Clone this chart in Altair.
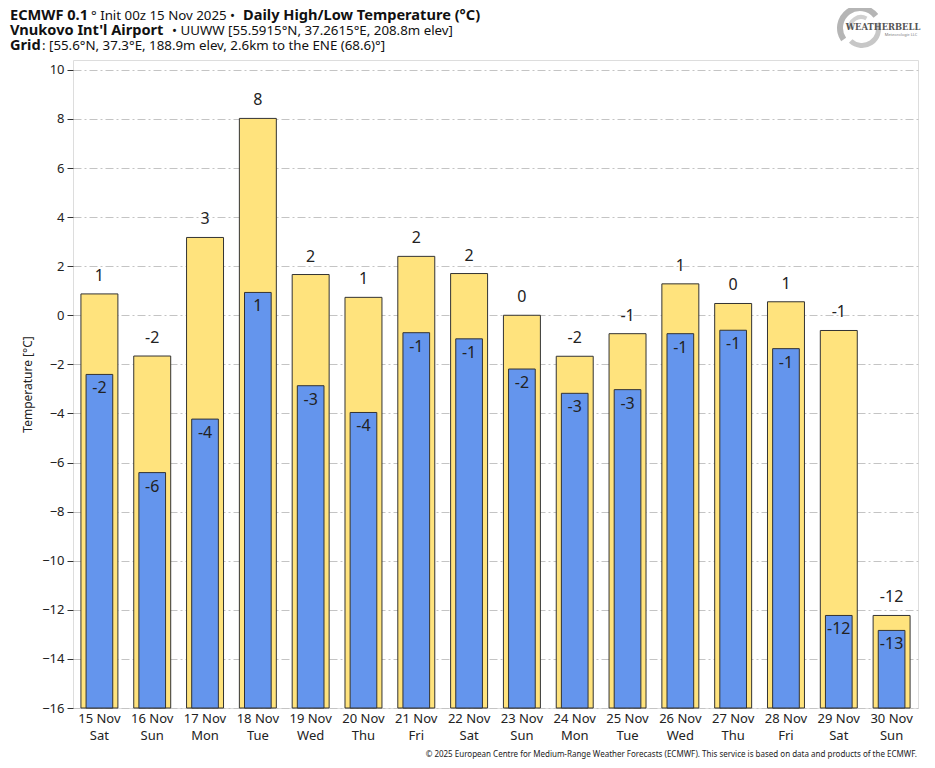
import altair as alt
import pandas as pd

# ---- data ----
dates = ["15 Nov", "16 Nov", "17 Nov", "18 Nov", "19 Nov", "20 Nov", "21 Nov", "22 Nov",
         "23 Nov", "24 Nov", "25 Nov", "26 Nov", "27 Nov", "28 Nov", "29 Nov", "30 Nov"]
weekdays = ["Sat", "Sun", "Mon", "Tue", "Wed", "Thu", "Fri", "Sat",
            "Sun", "Mon", "Tue", "Wed", "Thu", "Fri", "Sat", "Sun"]
highs = [0.87, -1.66, 3.17, 8.02, 1.66, 0.73, 2.40, 1.70,
         0.0, -1.67, -0.75, 1.28, 0.48, 0.55, -0.62, -12.23]
lows = [-2.41, -6.41, -4.23, 0.93, -2.87, -3.96, -0.71, -0.96,
        -2.19, -3.18, -3.03, -0.75, -0.61, -1.36, -12.23, -12.84]
y_ticks = list(range(-16, 11, 2))

FONT = "Noto Sans"
YELLOW = "#FFE37D"
BLUE = "#6495ED"
EDGE = "#333333"

df = pd.DataFrame({
    "key": [f"{d}|{w}" for d, w in zip(dates, weekdays)],
    "high": highs,
    "low": lows,
    "high_lbl": [str(int(round(v))) for v in highs],
    "low_lbl": [str(int(round(v))) for v in lows],
})

x_enc = alt.X("key:N", sort=None, title=None,
              scale=alt.Scale(paddingInner=0, paddingOuter=0),
              axis=alt.Axis(labelExpr="split(datum.value, '|')", labelAngle=0,
                            ticks=False, domain=False, grid=False,
                            labelFontSize=13, labelLineHeight=17, labelPadding=4,
                            labelColor="#222", labelFont=FONT))
y_scale = alt.Scale(domain=[-16, 10.4], nice=False, zero=False)
y_axis = alt.Axis(values=y_ticks, grid=True, gridColor="#c4c4c4", gridDash=[8, 3, 2, 3],
                  gridWidth=1, domain=False, tickSize=6, tickColor=EDGE,
                  labelFontSize=13, labelColor="#222", labelFont=FONT, labelPadding=3,
                  title="Temperature [°C]", titleFont=FONT, titleFontSize=12,
                  titleFontWeight="normal", titleColor="#222",
                  titleAngle=-90, titleX=-46, titleY=324, titleAlign="center",
                  titleBaseline="middle")

base = alt.Chart(df)

high_bars = base.mark_bar(color=YELLOW, stroke=EDGE, strokeWidth=1,
                          width=alt.RelativeBandSize(0.70)).encode(
    x=x_enc, y=alt.Y("high:Q", scale=y_scale, axis=y_axis), y2=alt.datum(-16))
low_bars = base.mark_bar(color=BLUE, stroke=EDGE, strokeWidth=1,
                         width=alt.RelativeBandSize(0.505)).encode(
    x="key:N", y="low:Q", y2=alt.datum(-16))
high_text = base.mark_text(font=FONT, fontSize=16, color="#222", dy=-18,
                           baseline="middle").encode(
    x="key:N", y="high:Q", text="high_lbl:N")
low_text = base.mark_text(font=FONT, fontSize=16, color="#222", dy=14,
                          baseline="middle").encode(
    x="key:N", y="low:Q", text="low_lbl:N")

one = pd.DataFrame({"t": [0]})


def txt(s, x, y, bold=False, size=13.3, color="#111", align="left", font=FONT):
    return alt.Chart(one).mark_text(text=s, font=font, fontSize=size, color=color,
                                    fontWeight="bold" if bold else "normal",
                                    align=align, baseline="alphabetic").encode(
        x=alt.value(x), y=alt.value(y))


BOLD = 14.6
header = [
    txt("ECMWF 0.1", 10 - 73, -40, bold=True, size=BOLD),
    txt("° Init 00z 15 Nov 2025 •", 91 - 73, -40),
    txt("Daily High/Low Temperature (°C)", 243 - 73, -40, bold=True, size=BOLD),
    txt("Vnukovo Int'l Airport", 10 - 73, -25, bold=True, size=BOLD),
    txt("• UUWW [55.5915°N, 37.2615°E, 208.8m elev]", 172 - 73, -25),
    txt("Grid", 10 - 73, -10, bold=True, size=BOLD),
    txt(": [55.6°N, 37.3°E, 188.9m elev, 2.6km to the ENE (68.6)°]", 42 - 73, -10),
    txt("© 2025 European Centre for Medium-Range Weather Forecasts (ECMWF). "
        "This service is based on data and products of the ECMWF.",
        844, 697, size=8, color="#222", align="right"),
]

# logo approximation (swirl + wordmark)
logo_arcs = [
    alt.Chart(one).mark_arc(theta=4.1, theta2=7.2, radius=23, radius2=17,
                            color="#a8a8a8", opacity=0.85).encode(
        x=alt.value(787), y=alt.value(-32)),
    alt.Chart(one).mark_arc(theta=1.2, theta2=3.9, radius=19, radius2=14,
                            color="#bdbdbd", opacity=0.85).encode(
        x=alt.value(789), y=alt.value(-31)),
    alt.Chart(one).mark_arc(theta=4.6, theta2=6.8, radius=13, radius2=9,
                            color="#c8c8c8", opacity=0.85).encode(
        x=alt.value(788), y=alt.value(-32)),
]
logo_text = [
    txt("WEATHERBELL", 810, -30, bold=True, size=8.4, color="#555", align="center",
        font="DejaVu Serif"),
    txt("Meteorologic LLC", 828, -24, size=4, color="#777", align="center"),
]

chart = alt.layer(high_bars, low_bars, high_text, low_text,
                  *logo_arcs, *logo_text, *header).properties(
    width=845, height=648,
    padding={"left": 65, "top": 52, "right": 9, "bottom": 52},
    autosize="none",
).configure_view(fill="#f4f4f4", stroke=EDGE, strokeWidth=1).configure(
    background="white")

chart.save("out.html", embed_options={"renderer": "svg", "actions": False})
